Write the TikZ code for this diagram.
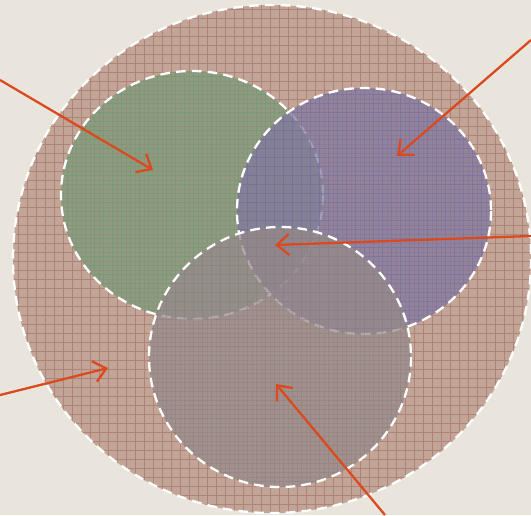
\documentclass[tikz,border=0pt]{standalone}
\usetikzlibrary{arrows.meta}

\definecolor{bgbeige}{HTML}{E9E5DD}
\definecolor{outerfill}{HTML}{C3A598}
\definecolor{outergrid}{HTML}{A06A5E}
\definecolor{greenfill}{HTML}{83997A}
\definecolor{greengrid}{HTML}{649A6A}
\definecolor{purplefill}{HTML}{8077A0}
\definecolor{purplegrid}{HTML}{7068A0}
\definecolor{greyfill}{HTML}{958A8A}
\definecolor{greygrid}{HTML}{8C7A80}
\definecolor{arroworange}{HTML}{DA4A1E}

\tikzset{
  setborder/.style={draw=white, line width=1.3pt, dash pattern=on 5.5pt off 3.5pt},
  pointer/.style={draw=arroworange, line width=1.3pt,
    -{Straight Barb[length=7pt, width=12pt, line width=1.3pt]}}
}

\begin{document}
\begin{tikzpicture}[x=0.02cm, y=-0.02cm]
    % --- 1. 座標の定義 ---
    \coordinate (U) at (272, 259);   % 全体集合
    \coordinate (A) at (192, 195);   % 集合 A (緑)
    \coordinate (B) at (364, 211);   % 集合 B (紫)
    \coordinate (C) at (280, 357);   % 集合 C (灰)

    % 矢印の始点と終点
    \coordinate (pA_start) at (0, 80);     \coordinate (pA_end) at (153, 170);
    \coordinate (pB_start) at (531, 40);   \coordinate (pB_end) at (397, 156);
    \coordinate (pABC_start) at (531, 236);\coordinate (pABC_end) at (275, 245);
    \coordinate (pU_start) at (0, 395);    \coordinate (pU_end) at (108, 368);
    \coordinate (pC_start) at (385, 515);  \coordinate (pC_end) at (276, 384);

    % 背景
    \fill[bgbeige] (0, 0) rectangle (531, 515);
    \useasboundingbox (0, 0) rectangle (531, 515);

    % --- 2. 全体集合 (格子模様) ---
    \fill[outerfill] (U) ellipse [x radius=259, y radius=254];
    \begin{scope}
      \clip (U) ellipse [x radius=259, y radius=254];
      \draw[outergrid, line width=0.4pt, opacity=0.55, step=0.18cm] (0, 0) grid (531, 515);
    \end{scope}
    \draw[setborder] (U) ellipse [x radius=259, y radius=254];

    % --- 3. 集合 A, B, C (半透明) ---
    \fill[greenfill, fill opacity=0.8] (A) ellipse [x radius=131, y radius=124];
    \begin{scope}
      \clip (A) ellipse [x radius=131, y radius=124];
      \draw[greengrid, line width=0.4pt, opacity=0.5, shift={(4.5, 4.5)}, step=0.18cm] (0, 0) grid (531, 515);
    \end{scope}
    \draw[setborder] (A) ellipse [x radius=131, y radius=124];

    \fill[purplefill, fill opacity=0.72] (B) ellipse [x radius=127, y radius=123];
    \begin{scope}
      \clip (B) ellipse [x radius=127, y radius=123];
      \draw[purplegrid, line width=0.4pt, opacity=0.5, shift={(4.5, 4.5)}, step=0.18cm] (0, 0) grid (531, 515);
    \end{scope}
    \draw[setborder] (B) ellipse [x radius=127, y radius=123];

    \fill[greyfill, fill opacity=0.72] (C) ellipse [x radius=131, y radius=130];
    \begin{scope}
      \clip (C) ellipse [x radius=131, y radius=130];
      \draw[greygrid, line width=0.4pt, opacity=0.45, shift={(4.5, 4.5)}, step=0.18cm] (0, 0) grid (531, 515);
    \end{scope}
    \draw[setborder] (C) ellipse [x radius=131, y radius=130];

    % --- 4. 矢印 ---
    \draw[pointer] (pA_start) -- (pA_end);
    \draw[pointer] (pB_start) -- (pB_end);
    \draw[pointer] (pABC_start) -- (pABC_end);
    \draw[pointer] (pU_start) -- (pU_end);
    \draw[pointer] (pC_start) -- (pC_end);

  \end{tikzpicture}
\end{document}
